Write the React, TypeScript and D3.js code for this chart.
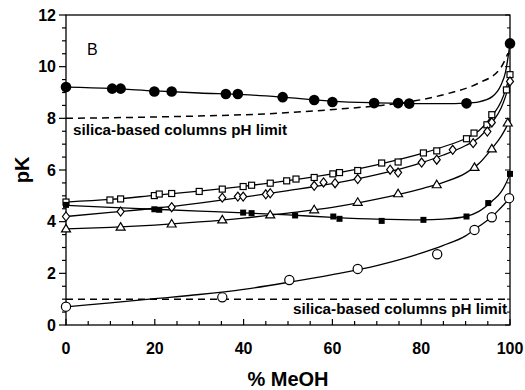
import * as d3 from 'd3';

// marker readings (x = % MeOH, y = pK)
const fcX = [0, 10.4, 12.3, 19.9, 23.8, 36, 38.7, 48.8, 55.9, 60, 69.4, 74.8, 77.3, 90.2, 100];
const fcY = [9.21, 9.15, 9.15, 9.04, 9.04, 8.94, 8.94, 8.82, 8.71, 8.63, 8.59, 8.59, 8.57, 8.58, 10.9];

const osX = [0, 9.9, 12.3, 19.9, 21, 23.8, 30, 35.2, 39.9, 41.8, 46, 49.7, 51.8, 55.9, 60.1, 61.6, 65.7, 71.1, 74.8, 80.5, 83.5, 90.2, 91.9, 94.8, 95.9, 99.2, 100];
const osY = [4.76, 4.84, 4.88, 5.01, 5.07, 5.09, 5.17, 5.26, 5.36, 5.41, 5.49, 5.58, 5.65, 5.71, 5.85, 5.9, 5.98, 6.27, 6.31, 6.66, 6.74, 7.21, 7.43, 7.75, 8.14, 9.1, 9.69];

const odX = [0, 12.3, 23.8, 35.2, 38.7, 39.9, 45, 46, 55.9, 58, 60.6, 65.7, 73, 74.8, 80.1, 83.5, 87.1, 91.7, 94.9, 95.9, 100];
const odY = [4.2, 4.39, 4.56, 4.93, 4.97, 4.97, 5.06, 5.1, 5.39, 5.52, 5.49, 5.65, 6.01, 5.9, 6.29, 6.4, 6.78, 7.04, 7.49, 7.84, 9.43];

const otX = [0, 12.3, 23.8, 35.2, 46, 55.9, 65.7, 74.8, 83.5, 92, 95.9, 99.5];
const otY = [3.72, 3.79, 3.91, 4.07, 4.26, 4.46, 4.75, 5.08, 5.43, 6.1, 6.82, 7.82];

const fsX = [0, 19.9, 21, 39.9, 41.8, 51.6, 60.2, 61.6, 71.1, 80.5, 90.2, 95.1, 100];
const fsY = [4.65, 4.48, 4.46, 4.35, 4.33, 4.24, 4.2, 4.11, 4.03, 4.07, 4.2, 4.72, 5.85];

const ocX = [0, 35.2, 50.3, 65.7, 83.6, 92, 95.9, 99.8];
const ocY = [0.71, 1.07, 1.74, 2.17, 2.74, 3.68, 4.17, 4.91];

// fitted curves
const fitX = [0, 10, 20, 30, 40, 50, 60, 70, 80, 85, 90, 93, 96, 98, 99, 100];
const fitFC = [9.21, 9.16, 9.06, 8.98, 8.92, 8.8, 8.66, 8.6, 8.57, 8.57, 8.59, 8.64, 8.84, 9.3, 9.8, 10.9];
const fitOS = [4.76, 4.86, 5.02, 5.18, 5.37, 5.59, 5.85, 6.2, 6.63, 6.9, 7.22, 7.52, 8.1, 8.65, 9.1, 9.7];
const fitOD = [4.2, 4.36, 4.52, 4.72, 4.95, 5.2, 5.47, 5.82, 6.28, 6.58, 6.95, 7.25, 7.85, 8.4, 8.85, 9.45];
const fitOT = [3.72, 3.78, 3.87, 3.99, 4.14, 4.33, 4.55, 4.87, 5.27, 5.52, 5.88, 6.25, 6.85, 7.3, 7.6, 7.95];
const fitFS = [4.63, 4.55, 4.48, 4.41, 4.34, 4.26, 4.17, 4.1, 4.07, 4.1, 4.2, 4.4, 4.8, 5.15, 5.45, 5.85];
const fitOC = [0.7, 0.86, 1.02, 1.18, 1.38, 1.65, 1.95, 2.3, 2.78, 3.08, 3.45, 3.82, 4.2, 4.55, 4.73, 4.92];

// pH limits of silica columns
const limHiX = [0, 25, 48, 63, 71, 78, 86, 93, 97.7, 99.5];
const limHiY = [8.0, 8.07, 8.2, 8.38, 8.5, 8.66, 8.96, 9.37, 9.9, 10.5];
const limLoX = [0, 100];
const limLoY = [1.0, 1.0];

const xTicks = [0, 20, 40, 60, 80, 100];
const yTicks = [0, 2, 4, 6, 8, 10, 12];
const limitLabel = 'silica-based columns pH limit';

const W = 525;
const H = 390;
const left = 66, right = 510, top = 15, bottom = 325;
const font = '"Liberation Sans", Arial, Helvetica, sans-serif';

const x = d3.scaleLinear().domain([0, 100]).range([left, right]);
const y = d3.scaleLinear().domain([0, 12]).range([bottom, top]);

const line = d3.line<[number, number]>()
  .x(d => x(d[0]))
  .y(d => y(d[1]))
  .curve(d3.curveMonotoneX);

const zip = (xs: number[], ys: number[]) => xs.map((v, i) => [v, ys[i]] as [number, number]);

function Marker({ kind, cx, cy }: { kind: string; cx: number; cy: number }) {
  const sw = 1.2;
  switch (kind) {
    case 'fc':
      return <circle cx={cx} cy={cy} r={5.3} fill="#000" />;
    case 'oc':
      return <circle cx={cx} cy={cy} r={4.6} fill="#fff" stroke="#000" strokeWidth={sw} />;
    case 'os':
      return <rect x={cx - 3} y={cy - 3} width={6} height={6} fill="#fff" stroke="#000" strokeWidth={sw} />;
    case 'fs':
      return <rect x={cx - 3} y={cy - 3} width={6} height={6} fill="#000" />;
    case 'od':
      return <path d={`M${cx},${cy - 4.5}L${cx + 3.5},${cy}L${cx},${cy + 4.5}L${cx - 3.5},${cy}Z`} fill="#fff" stroke="#000" strokeWidth={sw} />;
    case 'ot':
      return <path d={`M${cx},${cy - 4.5}L${cx + 4.5},${cy + 3}L${cx - 4.5},${cy + 3}Z`} fill="#fff" stroke="#000" strokeWidth={sw} />;
    default:
      return null;
  }
}

const series = [
  { kind: 'fc', xs: fcX, ys: fcY, fit: fitFC },
  { kind: 'os', xs: osX, ys: osY, fit: fitOS },
  { kind: 'od', xs: odX, ys: odY, fit: fitOD },
  { kind: 'ot', xs: otX, ys: otY, fit: fitOT },
  { kind: 'fs', xs: fsX, ys: fsY, fit: fitFS },
  { kind: 'oc', xs: ocX, ys: ocY, fit: fitOC },
];

export default function App() {
  const xMinor = d3.range(0, 101, 5);
  const yMinor = d3.range(0, 12.01, 0.5);

  return (
    <svg width={W} height={H} style={{ position: 'absolute', left: 0, top: 0, background: '#fff' }} fontFamily={font}>
      {/* frame */}
      <rect x={left} y={top} width={right - left} height={bottom - top} fill="none" stroke="#000" strokeWidth={1.3} />

      {/* y axis ticks */}
      {yMinor.map(v => (
        <line key={'ym' + v} x1={left} x2={left - (v % 2 === 0 ? 7 : 4)} y1={y(v)} y2={y(v)} stroke="#000" strokeWidth={1.2} />
      ))}
      {yMinor.map(v => (
        <line key={'yr' + v} x1={right} x2={right - (v % 2 === 0 ? 5 : 3)} y1={y(v)} y2={y(v)} stroke="#000" strokeWidth={1} />
      ))}
      {yTicks.map(v => (
        <text key={'yl' + v} x={left - 10} y={y(v)} dy="0.36em" textAnchor="end" fontSize={16} fontWeight="bold">{v}</text>
      ))}

      {/* x axis ticks */}
      {xMinor.map(v => (
        <line key={'xm' + v} x1={x(v)} x2={x(v)} y1={bottom} y2={bottom - (v % 20 === 0 ? 6 : 4)} stroke="#000" strokeWidth={1.2} />
      ))}
      {xTicks.map(v => (
        <text key={'xl' + v} x={x(v)} y={354} textAnchor="middle" fontSize={16} fontWeight="bold">{v}</text>
      ))}

      {/* axis titles */}
      <text x={(left + right) / 2} y={386} textAnchor="middle" fontSize={20} fontWeight="bold">% MeOH</text>
      <text transform={`translate(29,${(top + bottom) / 2}) rotate(-90)`} textAnchor="middle" fontSize={20} fontWeight="bold">pK</text>
      <text x={87} y={55} fontSize={16}>B</text>

      {/* pH limits */}
      <path d={line(zip(limHiX, limHiY)) || ''} fill="none" stroke="#000" strokeWidth={1.5} strokeDasharray="7,5" />
      <path d={line(zip(limLoX, limLoY)) || ''} fill="none" stroke="#000" strokeWidth={1.5} strokeDasharray="7,5" />
      <text x={73} y={135} fontSize={14} fontWeight="bold" textLength={214} lengthAdjust="spacingAndGlyphs">{limitLabel}</text>
      <text x={293} y={314} fontSize={14} fontWeight="bold" textLength={214} lengthAdjust="spacingAndGlyphs">{limitLabel}</text>

      {/* fitted curves */}
      {series.map(s => (
        <path key={'f' + s.kind} d={line(zip(fitX, s.fit)) || ''} fill="none" stroke="#000" strokeWidth={1.3} />
      ))}

      {/* markers */}
      {series.map(s => (
        <g key={'m' + s.kind}>
          {s.xs.map((v, i) => (
            <Marker key={i} kind={s.kind} cx={x(v)} cy={y(s.ys[i])} />
          ))}
        </g>
      ))}
    </svg>
  );
}
